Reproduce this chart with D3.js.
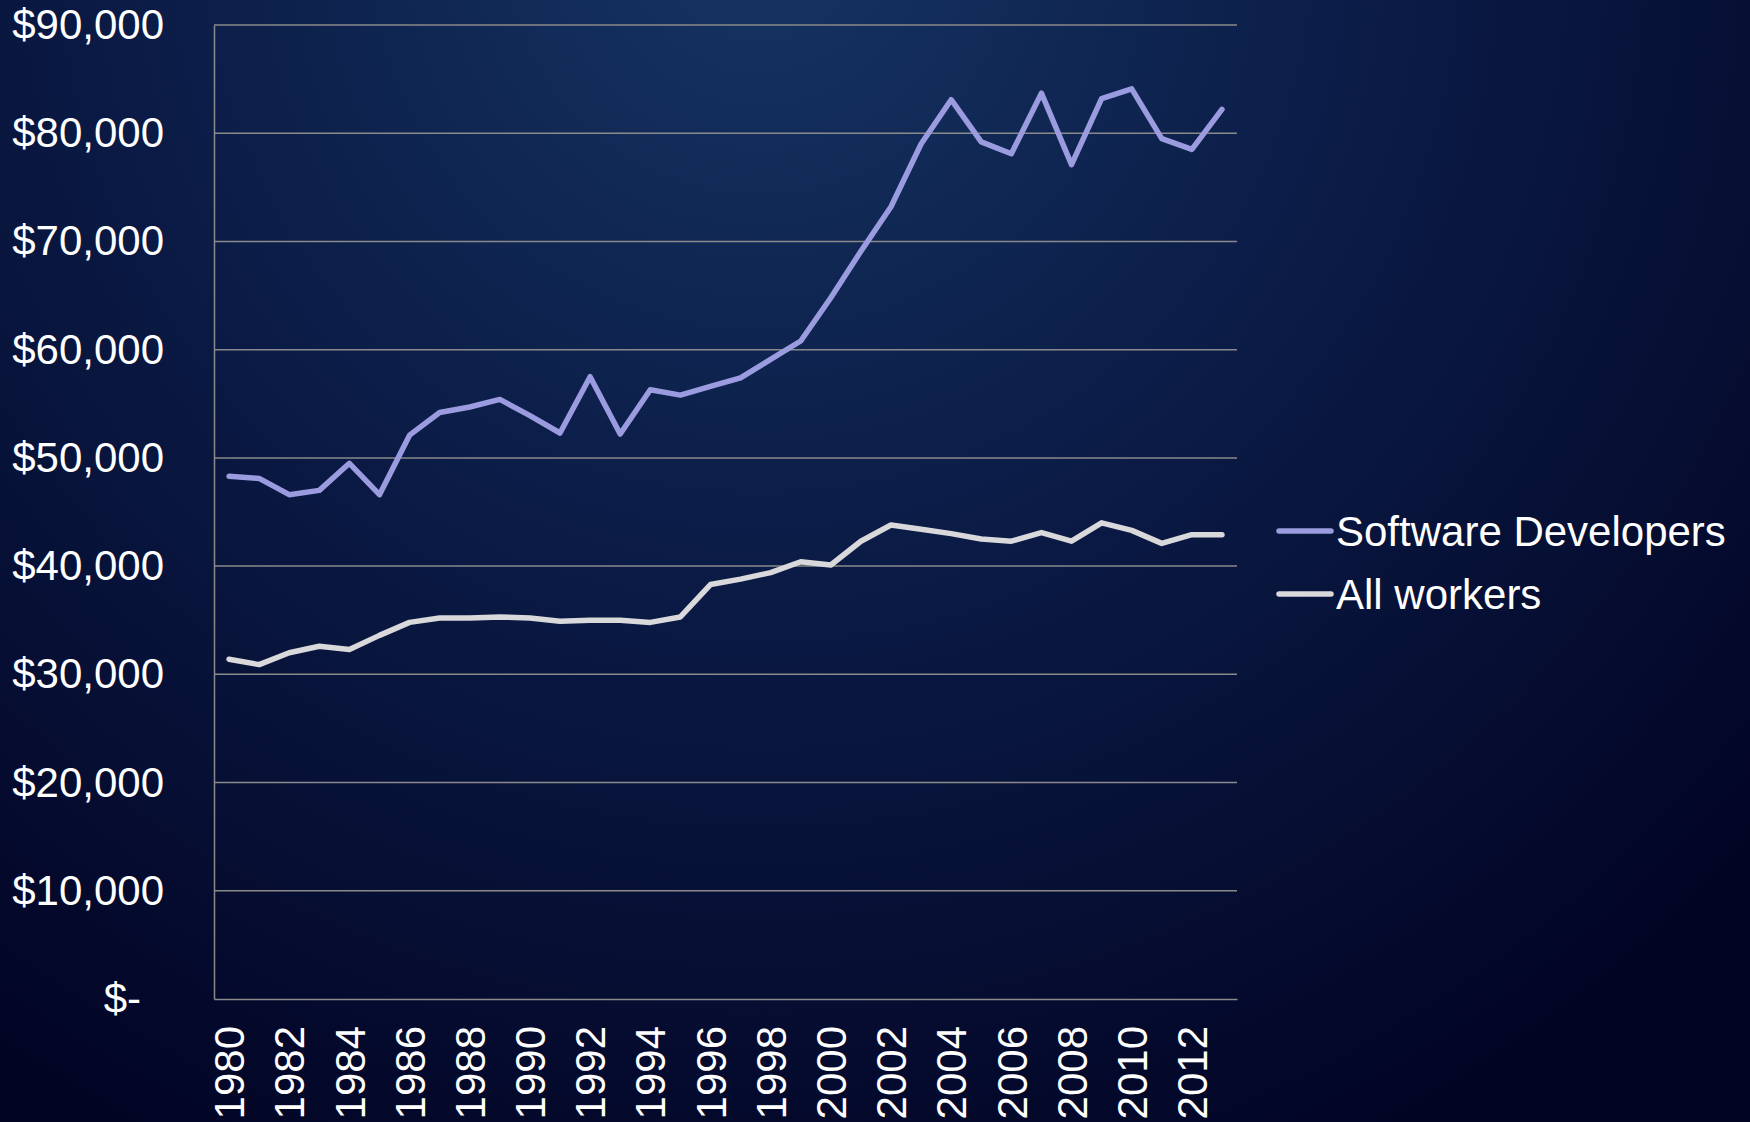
<!DOCTYPE html>
<html>
<head>
<meta charset="utf-8">
<script src="https://cdn.jsdelivr.net/npm/d3@7"></script>
<style>
  html, body { margin: 0; padding: 0; background: #020524; }
  svg { display: block; }
</style>
</head>
<body>
<div id="chart"></div>
<script>
// years on the category axis
const years = d3.range(1980, 2014);

// median earnings
const softwareDevelopers = [
  48300, 48100, 46600, 47000, 49500, 46600, 52100, 54200, 54700, 55400,
  53900, 52300, 57500, 52200, 56300, 55800, 56600, 57400, 59100, 60800,
  64800, 69100, 73200, 79000, 83100, 79200, 78100, 83700, 77100, 83200,
  84100, 79500, 78500, 82200
];
const allWorkers = [
  31400, 30900, 32000, 32600, 32300, 33600, 34800, 35200, 35200, 35300,
  35200, 34900, 35000, 35000, 34800, 35300, 38300, 38800, 39400, 40400,
  40100, 42300, 43800, 43400, 43000, 42500, 42300, 43100, 42300, 44000,
  43300, 42100, 42900, 42900
];

const seriesNames = ['Software Developers', 'All workers'];
const seriesColors = ['#9b9be0', '#d9d9dc'];
const yTicks = [0, 10000, 20000, 30000, 40000, 50000, 60000, 70000, 80000, 90000];
const xTickYears = d3.range(1980, 2014, 2);

const width = 1750, height = 1122;
const margin = { top: 25, right: 513, bottom: 123, left: 214 };
const plotW = width - margin.left - margin.right;
const plotH = height - margin.top - margin.bottom;

const svg = d3.select('#chart')
  .append('svg')
  .attr('width', width)
  .attr('height', height);

// background gradient
const defs = svg.append('defs');
const grad = defs.append('radialGradient')
  .attr('id', 'bg')
  .attr('gradientUnits', 'userSpaceOnUse')
  .attr('cx', 760).attr('cy', -60).attr('r', 1350);
grad.append('stop').attr('offset', '0%').attr('stop-color', '#163462');
grad.append('stop').attr('offset', '45%').attr('stop-color', '#0b1c47');
grad.append('stop').attr('offset', '100%').attr('stop-color', '#020424');

svg.append('rect')
  .attr('width', width).attr('height', height)
  .attr('fill', 'url(#bg)');

const g = svg.append('g')
  .attr('transform', `translate(${margin.left},${margin.top})`);

const x = d3.scalePoint()
  .domain(years)
  .range([0, plotW])
  .padding(0.5);

const y = d3.scaleLinear()
  .domain([0, 90000])
  .range([plotH, 0]);

const fontFamily = '"Liberation Sans", Arial, sans-serif';

// gridlines
g.append('g')
  .selectAll('line')
  .data(yTicks.filter(d => d > 0))
  .enter().append('line')
    .attr('x1', 0).attr('x2', plotW)
    .attr('y1', d => y(d)).attr('y2', d => y(d))
    .attr('stroke', '#8a8a8a')
    .attr('stroke-width', 1.5);

// y axis
const yAxis = g.append('g')
  .call(d3.axisLeft(y)
    .tickValues(yTicks)
    .tickSize(0)
    .tickPadding(50)
    .tickFormat(d => d === 0 ? '$-' : '$' + d3.format(',')(d)));
yAxis.select('.domain').attr('stroke', '#8a8a8a').attr('stroke-width', 1.5);
yAxis.selectAll('text')
  .attr('fill', '#ffffff')
  .attr('font-family', fontFamily)
  .attr('font-size', 42)
  .attr('dx', d => d === 0 ? -23 : 0);

// x axis
const xAxis = g.append('g')
  .attr('transform', `translate(0,${plotH})`)
  .call(d3.axisBottom(x)
    .tickValues(xTickYears)
    .tickSize(0)
    .tickPadding(0));
xAxis.select('.domain').attr('stroke', '#8a8a8a').attr('stroke-width', 1.5);
xAxis.selectAll('text')
  .attr('fill', '#ffffff')
  .attr('font-family', fontFamily)
  .attr('font-size', 42)
  .attr('transform', 'rotate(-90)')
  .attr('text-anchor', 'end')
  .attr('x', -27)
  .attr('y', 0)
  .attr('dy', '0.35em');

// lines
const line = d3.line()
  .x((d, i) => x(years[i]))
  .y(d => y(d));

[softwareDevelopers, allWorkers].forEach((s, i) => {
  g.append('path')
    .datum(s)
    .attr('fill', 'none')
    .attr('stroke', seriesColors[i])
    .attr('stroke-width', 5.5)
    .attr('stroke-linejoin', 'round')
    .attr('stroke-linecap', 'round')
    .attr('d', line);
});

// legend
const legend = svg.append('g')
  .selectAll('g')
  .data(seriesNames)
  .enter().append('g')
    .attr('transform', (d, i) => `translate(1279,${531 + i * 63})`);

legend.append('line')
  .attr('x1', 0).attr('x2', 52)
  .attr('stroke', (d, i) => seriesColors[i])
  .attr('stroke-width', 5.5)
  .attr('stroke-linecap', 'round');

legend.append('text')
  .attr('x', 57)
  .attr('dy', '0.35em')
  .attr('fill', '#ffffff')
  .attr('font-family', fontFamily)
  .attr('font-size', 42)
  .text(d => d);
</script>
</body>
</html>
